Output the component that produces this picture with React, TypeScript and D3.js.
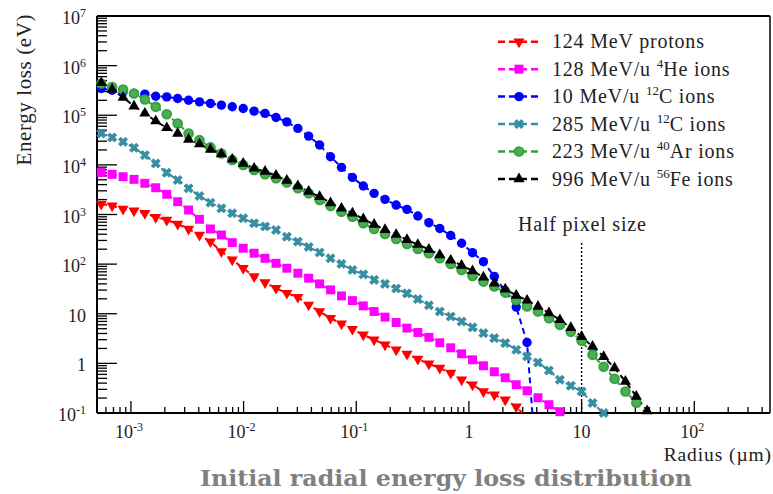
import React from "react";
import * as d3 from "d3";

// Radial bins (µm)
const RADIUS_UM = [
  0.000545, 0.000681, 0.000852, 0.001065, 0.00133, 0.00166, 0.00208, 0.0026, 0.00325, 0.00406,
  0.00508, 0.00635, 0.00793, 0.00992, 0.0124, 0.0155, 0.0194, 0.0242, 0.0303, 0.0378,
  0.0473, 0.0591, 0.0739, 0.0924, 0.1155, 0.144, 0.18, 0.226, 0.282, 0.352,
  0.441, 0.551, 0.689, 0.861, 1.076, 1.345, 1.68, 2.1, 2.63, 3.28,
  4.1, 5.13, 6.41, 8.02, 10.0, 12.5, 15.7, 19.6, 24.5, 30.6, 38.2,
];

// Energy loss (eV) per series
const E_PROTON_124 = [
  1630, 1500, 1290, 1190, 1060, 880, 776, 645, 511, 387, 284, 179, 122, 82.7, 56.1, 42.5, 32.8, 26.0,
  21.6, 15.1, 11.1, 8.16, 6.27, 4.9, 3.76, 2.99, 2.37, 1.88, 1.54, 1.22, 0.98, 0.805, 0.639, 0.468,
  0.371, 0.272, 0.233, 0.185, 0.134, 0.08,
];
const E_HE4_128 = [
  7070, 6440, 5770, 5110, 4250, 3460, 2550, 1810, 1230, 800, 511, 387, 271, 209, 166, 131, 104, 82.7,
  65.6, 52.1, 40.0, 30.3, 22.9, 18.4, 14.4, 11.1, 8.55, 6.65, 5.14, 4.19, 3.35, 2.6, 2.06, 1.56, 1.18,
  0.895, 0.678, 0.513, 0.371, 0.281, 0.203, 0.147, 0.106, 0.067,
];
const E_C12_10 = [
  346000, 320000, 296000, 275000, 266000, 242000, 235000, 218000, 201000, 186000, 173000, 160000,
  148000, 137000, 121000, 109000, 90300, 73700, 54300, 38000, 25100, 14600, 8910, 5610, 3750, 2670,
  2020, 1550, 1270, 933, 684, 523, 378, 263, 170, 112, 56.6, 28.9, 13.6, 2.64, 0.0031,
];
const E_C12_285 = [
  43000, 35700, 29200, 22100, 15700, 10700, 6940, 4950, 3370, 2360, 1730, 1330, 1060, 839, 665, 574,
  488, 357, 284, 222, 172, 131, 101, 76.4, 62.1, 48.1, 40.0, 32.2, 25.7, 19.7, 14.8, 11.1, 8.79, 6.97,
  5.32, 4.07, 3.23, 2.56, 1.88, 1.38, 1.04, 0.719, 0.468, 0.354, 0.272, 0.159, 0.1, 0.051,
];
const E_AR40_223 = [
  436000, 372000, 330000, 275000, 208000, 148000, 105000, 68400, 43000, 31500, 22500, 17000, 12500,
  9910, 7870, 6480, 5360, 4410, 3370, 2670, 1960, 1480, 1140, 904, 665, 511, 405, 321, 255, 202, 166,
  131, 101, 76.4, 57.9, 44.5, 35.3, 26.7, 19.0, 14.0, 11.1, 8.15, 5.98, 4.32, 2.85, 1.49, 0.855, 0.49,
  0.272, 0.161, 0.092,
];
const E_FE56_996 = [
  449000, 330000, 228000, 152000, 109000, 76100, 55800, 43000, 32600, 26200, 20500, 16500, 12900,
  10700, 8510, 7330, 6100, 4830, 3750, 2900, 2280, 1710, 1330, 1060, 811, 629, 494, 393, 311, 247, 198,
  153, 119, 94.2, 73.0, 54.5, 41.3, 31.3, 23.4, 18.6, 14.0, 10.4, 7.54, 5.21, 3.43, 2.19, 1.36, 0.805,
  0.433, 0.216, 0.11,
];

const X_TICKS = [0.001, 0.01, 0.1, 1, 10, 100];
const X_TICK_BASE = ["10", "10", "10", "1", "10", "10"];
const X_TICK_EXP = ["-3", "-2", "-1", "", "", "2"];
const Y_TICKS = [0.1, 1, 10, 100, 1e3, 1e4, 1e5, 1e6, 1e7];
const Y_TICK_BASE = ["10", "1", "10", "10", "10", "10", "10", "10", "10"];
const Y_TICK_EXP = ["-1", "", "", "2", "3", "4", "5", "6", "7"];

const LEGEND_PRE = ["124 MeV protons", "128 MeV/u ", "10 MeV/u ", "285 MeV/u ", "223 MeV/u ", "996 MeV/u "];
const LEGEND_SUP = ["", "4", "12", "12", "40", "56"];
const LEGEND_POST = ["", "He ions", "C ions", "C ions", "Ar ions", "Fe ions"];

const HALF_PIXEL_UM = 10;

const SERIES = [
  { values: E_PROTON_124, color: "#ff0000", marker: "triDown" },
  { values: E_HE4_128, color: "#ff00ff", marker: "square" },
  { values: E_C12_10, color: "#0000ff", marker: "circle" },
  { values: E_C12_285, color: "#378ea3", marker: "cross" },
  { values: E_AR40_223, color: "#33a040", marker: "ring" },
  { values: E_FE56_996, color: "#000000", marker: "triUp" },
];

const FONT = "'Liberation Serif', 'Times New Roman', serif";
const L = 97, T = 16, R = 770, B = 413;

const triPath = d3.symbol().type(d3.symbolTriangle).size(54)() as string;
const sqPath = d3.symbol().type(d3.symbolSquare).size(80)() as string;
const crossPath = d3.symbol().type(d3.symbolCross).size(52)() as string;

function Marker({ kind, color, cx, cy }: { kind: string; color: string; cx: number; cy: number }) {
  const tr = `translate(${cx},${cy})`;
  switch (kind) {
    case "triDown":
      return <path d={triPath} transform={`${tr} rotate(180)`} fill={color} />;
    case "triUp":
      return <path d={triPath} transform={tr} fill={color} />;
    case "square":
      return <path d={sqPath} transform={tr} fill={color} />;
    case "cross":
      return <path d={crossPath} transform={`${tr} rotate(45)`} fill={color} stroke={color} strokeWidth={0.8} />;
    case "circle":
      return <circle cx={cx} cy={cy} r={4.7} fill={color} />;
    case "ring":
      return <circle cx={cx} cy={cy} r={4.4} fill="#4cae50" stroke={color} strokeWidth={1.8} />;
    default:
      return null;
  }
}

export default function App() {
  const x = d3.scaleLog().domain([5e-4, 470]).range([L, R]);
  const y = d3.scaleLog().domain([0.1, 1e7]).range([B, T]);

  const xAll = x.ticks();
  const yAll = y.ticks();
  const isMajor = (v: number) => Math.abs(Math.log10(v) - Math.round(Math.log10(v))) < 1e-6;

  const line = d3
    .line<number>()
    .x((_, i) => x(RADIUS_UM[i]))
    .y((v) => y(v));

  const legendY = (i: number) => 41.7 + 27.46 * i;

  return (
    <div style={{ position: "absolute", left: 0, top: 0 }}>
      <svg width={773} height={494} style={{ display: "block", background: "#fff" }} fontFamily={FONT}>
        <defs>
          <clipPath id="plotclip">
            <rect x={L} y={T} width={R - L} height={B - T} />
          </clipPath>
        </defs>
        <rect x={0} y={0} width={773} height={494} fill="#fff" />

        {/* ticks */}
        {yAll.map((v, i) => (
          <line
            key={"yt" + i}
            x1={L}
            x2={L + (isMajor(v) ? 20 : 10)}
            y1={y(v)}
            y2={y(v)}
            stroke="#000"
            strokeWidth={1.3}
          />
        ))}
        {xAll.map((v, i) => (
          <line
            key={"xt" + i}
            x1={x(v)}
            x2={x(v)}
            y1={B}
            y2={B - (isMajor(v) ? 12 : 6)}
            stroke="#000"
            strokeWidth={1.3}
          />
        ))}

        {/* frame */}
        <line x1={L} x2={R} y1={T} y2={T} stroke="#000" strokeWidth={2} />
        <line x1={R} x2={R} y1={T} y2={B} stroke="#000" strokeWidth={1.5} />
        <line x1={L} x2={R} y1={B} y2={B} stroke="#000" strokeWidth={2} />
        <line x1={L} x2={L} y1={T} y2={B} stroke="#000" strokeWidth={2} />

        {/* tick labels */}
        {Y_TICKS.map((v, i) => (
          <text key={"yl" + i} x={86} y={y(v) + 8} textAnchor="end" fontSize={18} fill="#222">
            {Y_TICK_BASE[i]}
            {Y_TICK_EXP[i] && (
              <tspan dy={-7} fontSize={12}>
                {Y_TICK_EXP[i]}
              </tspan>
            )}
          </text>
        ))}
        {X_TICKS.map((v, i) => (
          <text key={"xl" + i} x={x(v) - (X_TICK_EXP[i] ? 2 : 0)} y={438} textAnchor="middle" fontSize={18} fill="#222">
            {X_TICK_BASE[i]}
            {X_TICK_EXP[i] && (
              <tspan dy={-7} fontSize={12}>
                {X_TICK_EXP[i]}
              </tspan>
            )}
          </text>
        ))}

        {/* axis titles */}
        <text
          transform="translate(31,14) rotate(-90)"
          textAnchor="end"
          fontSize={21}
          letterSpacing={0.6}
          fill="#222"
        >
          Energy loss (eV)
        </text>
        <text x={772} y={461} textAnchor="end" fontSize={19.5} letterSpacing={0.9} fill="#222">
          Radius (µm)
        </text>

        {/* half pixel marker */}
        <line
          x1={x(HALF_PIXEL_UM)}
          x2={x(HALF_PIXEL_UM)}
          y1={243}
          y2={B}
          stroke="#000"
          strokeWidth={1.4}
          strokeDasharray="2 2"
        />
        <text x={518} y={231} fontSize={20} letterSpacing={0.8} fill="#222">
          Half pixel size
        </text>

        {/* series lines */}
        <g clipPath="url(#plotclip)">
          {SERIES.map((s, si) => (
            <path
              key={"ln" + si}
              d={line(s.values) as string}
              fill="none"
              stroke={s.color}
              strokeWidth={2}
              strokeDasharray="6 4"
            />
          ))}
        </g>
        {/* series markers */}
        {SERIES.map((s, si) => (
          <g key={"mk" + si}>
            {s.values.map((v, i) =>
              v >= 0.099 && v <= 1e7 ? (
                <Marker key={i} kind={s.marker} color={s.color} cx={x(RADIUS_UM[i])} cy={y(v)} />
              ) : null
            )}
          </g>
        ))}

        {/* legend */}
        {SERIES.map((s, i) => (
          <g key={"lg" + i}>
            <line
              x1={498}
              x2={538}
              y1={legendY(i)}
              y2={legendY(i)}
              stroke={s.color}
              strokeWidth={2.5}
              strokeDasharray="7 4"
            />
            <Marker kind={s.marker} color={s.color} cx={519} cy={legendY(i)} />
            <text x={552} y={legendY(i) + 6.7} fontSize={20} letterSpacing={0.8} fill="#222">
              {LEGEND_PRE[i]}
              {LEGEND_SUP[i] && (
                <tspan dy={-8} fontSize={13} letterSpacing={0}>
                  {LEGEND_SUP[i]}
                </tspan>
              )}
              {LEGEND_POST[i] && <tspan dy={LEGEND_SUP[i] ? 8 : 0}>{LEGEND_POST[i]}</tspan>}
            </text>
          </g>
        ))}

        {/* caption */}
        <text
          x={446}
          y={486}
          textAnchor="middle"
          fontSize={23}
          fontWeight="bold"
          fontFamily="'DejaVu Serif', serif"
          fill="#808080"
          textLength={492}
          lengthAdjust="spacingAndGlyphs"
        >
          Initial radial energy loss distribution
        </text>
      </svg>
    </div>
  );
}
